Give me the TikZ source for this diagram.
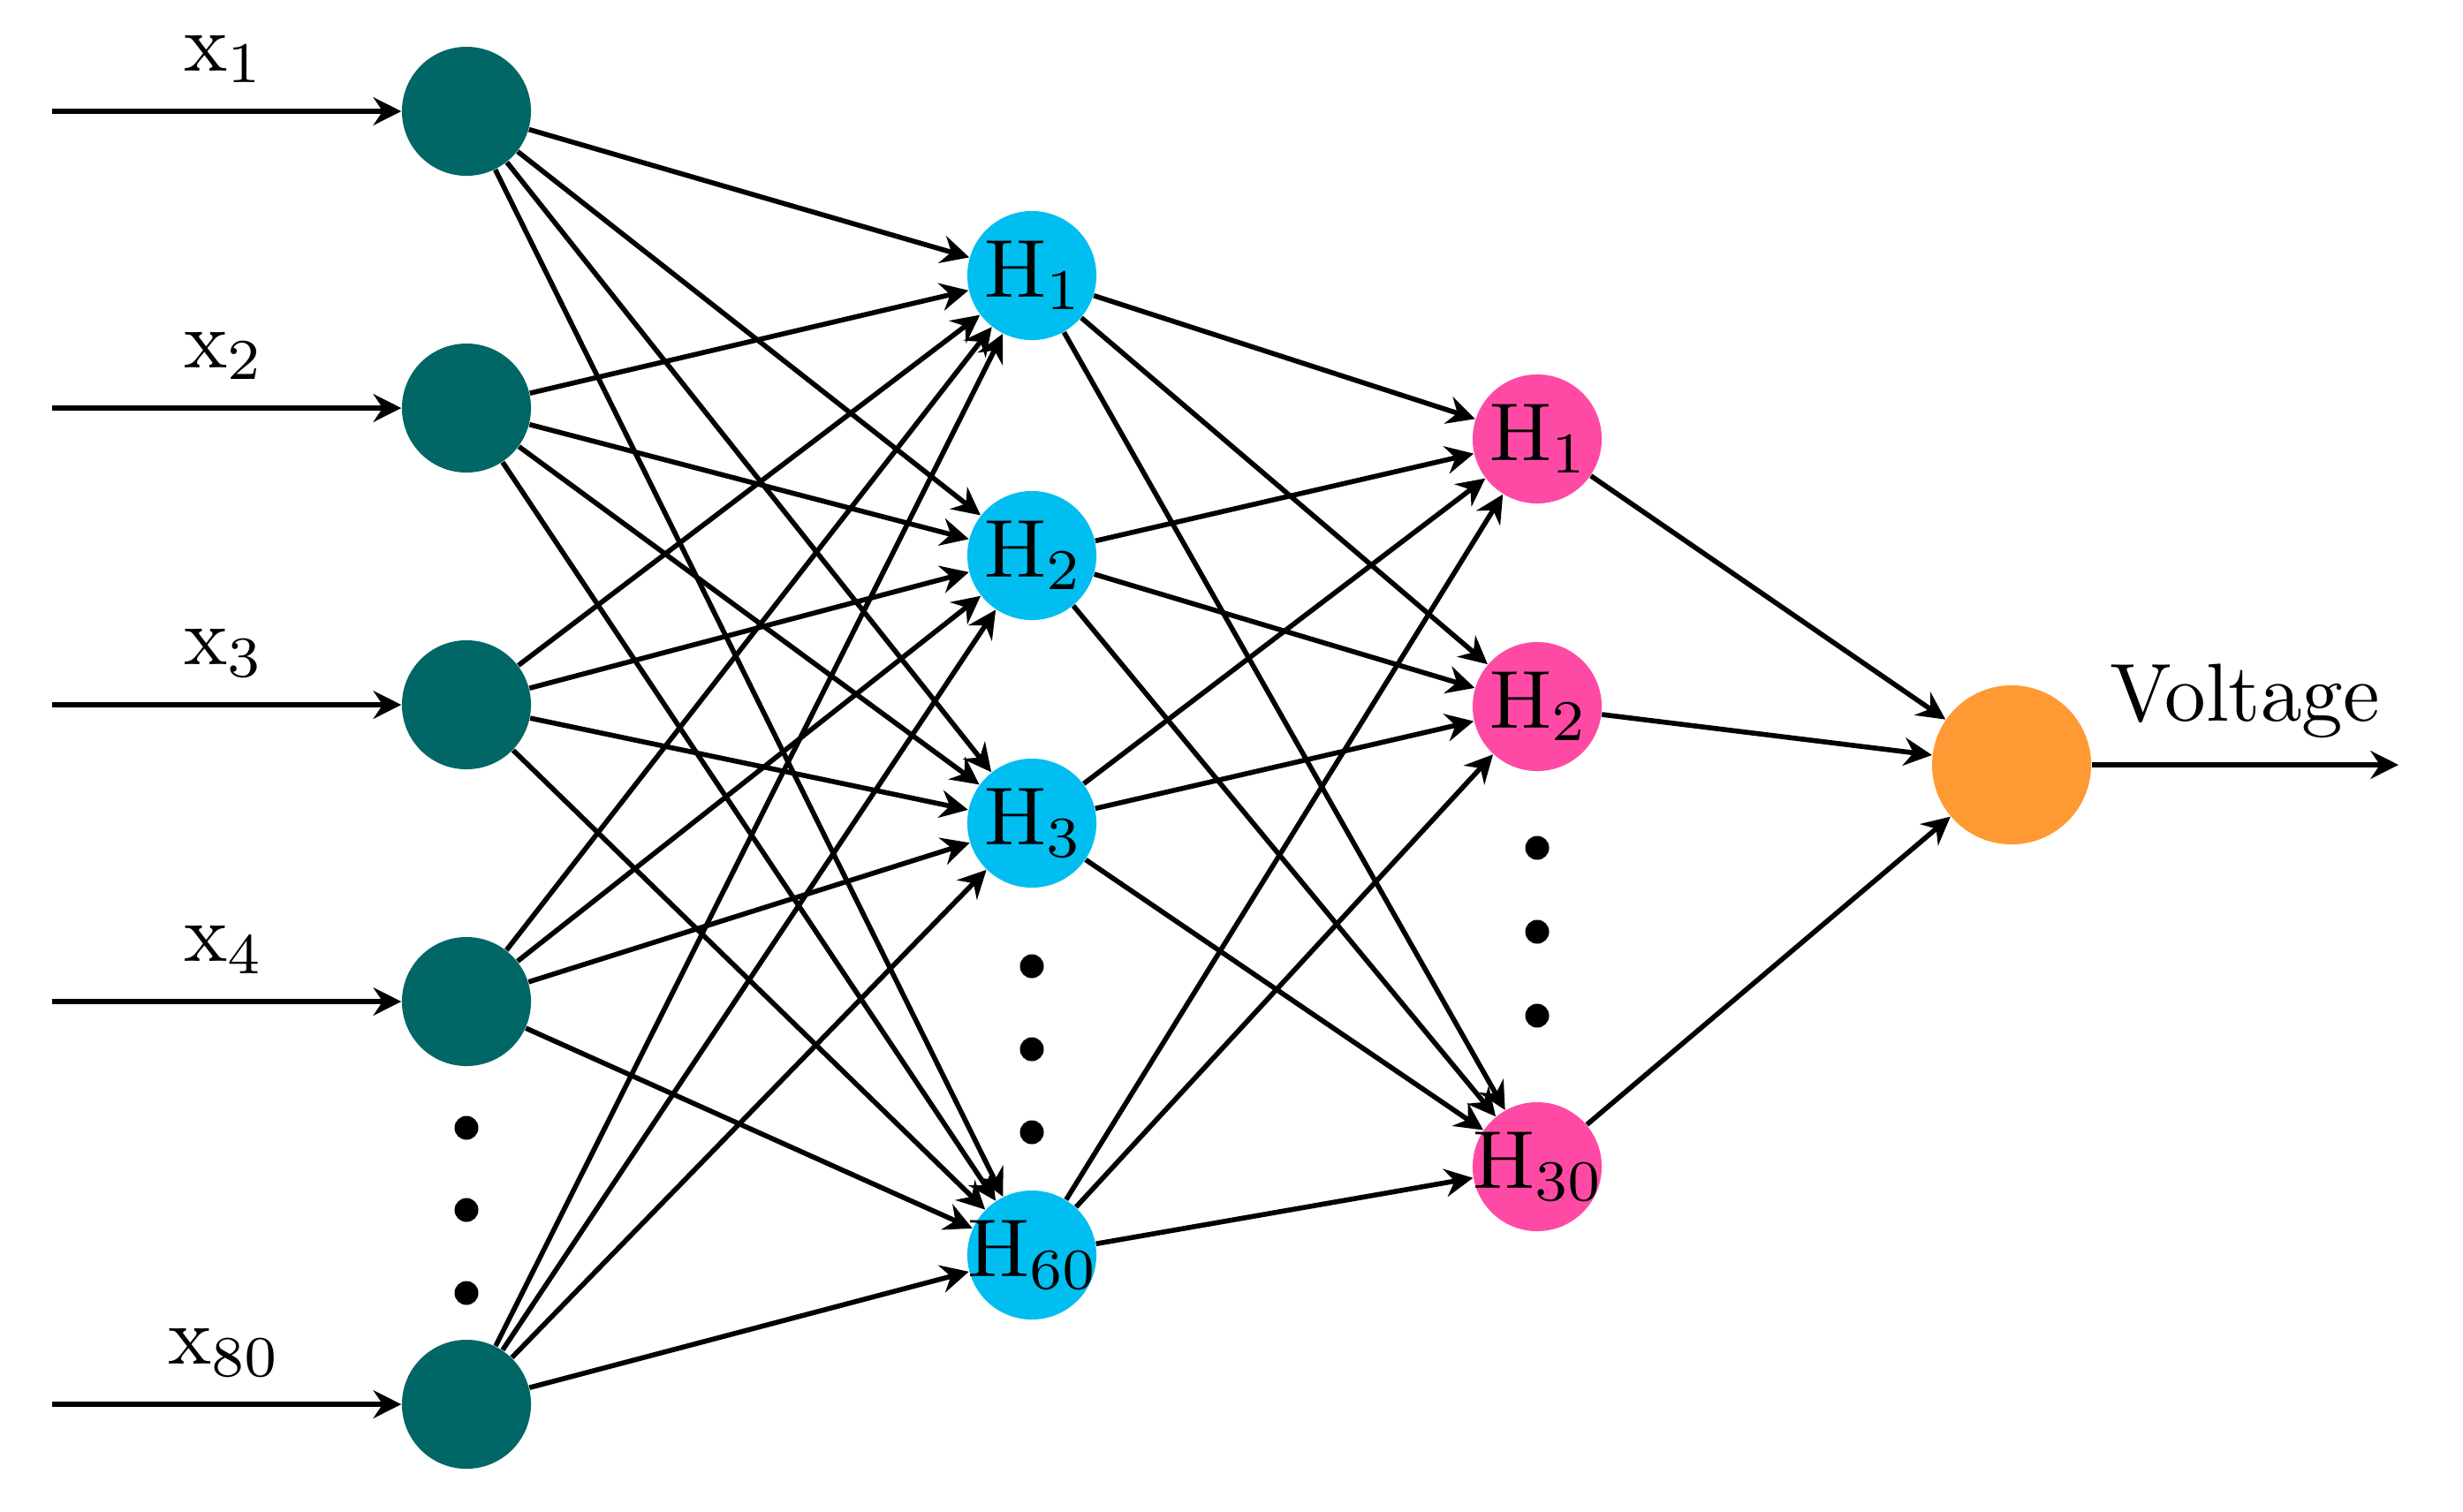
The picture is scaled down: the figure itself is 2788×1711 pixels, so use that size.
\documentclass[tikz,border=0pt]{standalone}
\usepackage{fontspec}
\newfontfamily\lmten{lmroman10-regular}[Extension=.otf]
\newfontfamily\lmseven{lmroman7-regular}[Extension=.otf]
\usetikzlibrary{arrows.meta}
\definecolor{inpcol}{RGB}{0,102,102}
\definecolor{hidAcol}{RGB}{0,190,240}
\definecolor{hidBcol}{RGB}{255,74,165}
\definecolor{outcol}{RGB}{255,153,51}
\newcommand{\mysub}[1]{\raisebox{-0.15em}{\lmseven\fontsize{18.6}{20}\selectfont #1}}
\newcommand{\hlab}[1]{\makebox[0pt]{H\mysub{#1}}}
\begin{document}
\begin{tikzpicture}[x=0.01cm,y=-0.01cm,
  conn/.style={line width=1.6pt,-{Stealth[length=9pt,width=9pt,inset=3pt]}},
  neuron/.style={circle,inner sep=0pt,minimum size=1.46cm,font=\lmten\fontsize{26.5}{32}\selectfont},
  inp/.style={neuron,fill=inpcol},
  hidA/.style={neuron,fill=hidAcol},
  hidB/.style={neuron,fill=hidBcol},
  outn/.style={neuron,fill=outcol,minimum size=1.80cm},
  lbl/.style={anchor=base,inner sep=0pt,font=\lmten\fontsize{26.5}{32}\selectfont},
  dotn/.style={circle,fill=black,inner sep=0pt,minimum size=0.27cm}
]
\useasboundingbox (0,0) rectangle (2788,1711);
% input layer
\node[inp] (i1) at (528,126) {};
\node[inp] (i2) at (528,462) {};
\node[inp] (i3) at (528,798) {};
\node[inp] (i4) at (528,1134) {};
\node[inp] (i5) at (528,1590) {};
\node[dotn] (di1) at (528,1277) {};
\node[dotn] (di2) at (528,1370) {};
\node[dotn] (di3) at (528,1464) {};
% hidden layer 1
\node[hidA] (h1) at (1168,312) {\hlab{1}};
\node[hidA] (h2) at (1168,629) {\hlab{2}};
\node[hidA] (h3) at (1168,932) {\hlab{3}};
\node[hidA] (h4) at (1168,1421) {\hlab{60}};
\node[dotn] (dh1) at (1168,1094) {};
\node[dotn] (dh2) at (1168,1188) {};
\node[dotn] (dh3) at (1168,1282) {};
% hidden layer 2
\node[hidB] (g1) at (1740,497) {\hlab{1}};
\node[hidB] (g2) at (1740,800) {\hlab{2}};
\node[hidB] (g3) at (1740,1321) {\hlab{30}};
\node[dotn] (dg1) at (1740,960) {};
\node[dotn] (dg2) at (1740,1055) {};
\node[dotn] (dg3) at (1740,1150) {};
% output
\node[outn] (o) at (2277,866) {};
% input arrows and labels
\foreach \n/\y/\t in {1/126/1,2/462/2,3/798/3,4/1134/4,5/1590/80}{
  \coordinate (s\n) at (59,\y);
  \draw[conn] (s\n) -- (i\n);
  \node[lbl] (xl\n) at (252,\y-46) {x\mysub{\t}};
}
% connections
\foreach \a in {1,...,5}{
  \foreach \b in {1,...,4}{
    \draw[conn] (i\a) -- (h\b);
  }
}
\foreach \a in {1,...,4}{
  \foreach \b in {1,...,3}{
    \draw[conn] (h\a) -- (g\b);
  }
}
\foreach \b in {1,...,3}{
  \draw[conn] (g\b) -- (o);
}
% output arrow
\coordinate (e) at (2715,866);
\draw[conn] (o) -- (e);
\node[lbl] (vl) at (2541,816) {Voltage};
\end{tikzpicture}
\end{document}
